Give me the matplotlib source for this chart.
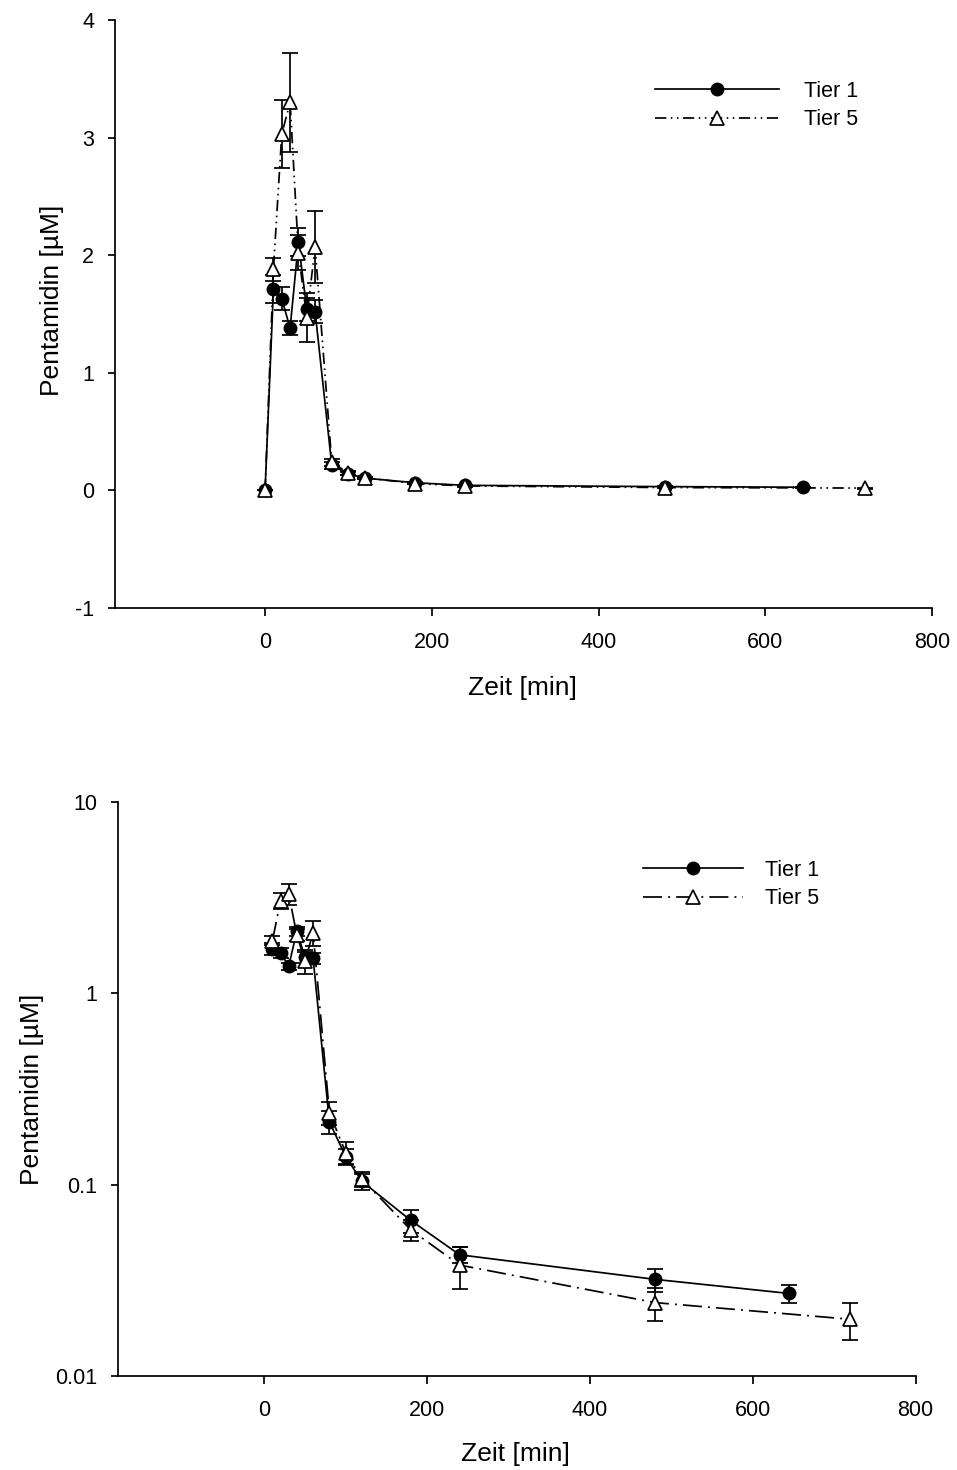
import matplotlib
matplotlib.use("Agg")
import matplotlib.pyplot as plt
from matplotlib.ticker import NullLocator

# Pentamidin concentration vs time, two animals (mean +/- SE)
time_t1 = [0, 10, 20, 30, 40, 50, 60, 80, 100, 120, 180, 240, 480, 645]
conc_t1 = [0, 1.71, 1.63, 1.38, 2.11, 1.54, 1.52, 0.213, 0.140, 0.104,
           0.065, 0.043, 0.032, 0.027]
err_t1 = [0, 0.12, 0.10, 0.06, 0.12, 0.10, 0.10, 0.030, 0.013, 0.010,
          0.009, 0.004, 0.0044, 0.003]

time_t5 = [0, 10, 20, 30, 40, 50, 60, 80, 100, 120, 180, 240, 480, 720]
conc_t5 = [0, 1.88, 3.03, 3.30, 2.02, 1.47, 2.07, 0.238, 0.147, 0.107,
           0.058, 0.038, 0.0242, 0.0198]
err_t5 = [0, 0.10, 0.29, 0.42, 0.15, 0.21, 0.31, 0.033, 0.019, 0.010,
          0.007, 0.0095, 0.0047, 0.0044]

labels = ["Tier 1", "Tier 5"]
xticks = [0, 200, 400, 600, 800]
yticks_lin = [-1, 0, 1, 2, 3, 4]
yticks_log = [0.01, 0.1, 1, 10]
yticklabels_log = ["0.01", "0.1", "1", "10"]

INK = "black"
LW = 1.25
plt.rcParams.update({
    "font.family": ["Liberation Sans", "DejaVu Sans"],
    "font.size": 15,
    "axes.unicode_minus": False,
    "axes.linewidth": LW,
    "xtick.major.width": LW, "ytick.major.width": LW,
    "xtick.major.size": 6, "ytick.major.size": 5,
    "xtick.major.pad": 11, "ytick.major.pad": 10,
    "xtick.labelsize": 15.5, "ytick.labelsize": 15.5,
})


def draw(ax, i1, i5, t5_dash):
    t1x, t1y, t1e = time_t1[i1:], conc_t1[i1:], err_t1[i1:]
    t5x, t5y, t5e = time_t5[i5:], conc_t5[i5:], err_t5[i5:]
    ax.errorbar(t1x, t1y, yerr=t1e, fmt="none", ecolor=INK, elinewidth=LW,
                capsize=6, capthick=LW, zorder=2)
    ax.errorbar(t5x, t5y, yerr=t5e, fmt="none", ecolor=INK, elinewidth=LW,
                capsize=6, capthick=LW, zorder=2)
    h1, = ax.plot(t1x, t1y, color=INK, lw=LW, marker="o", ms=9,
                  mfc=INK, mec=INK, zorder=3, label=labels[0])
    h5, = ax.plot(t5x, t5y, color=INK, lw=LW, ls=t5_dash, marker="^", ms=9.5,
                  mfc="white", mec=INK, mew=LW, zorder=4, label=labels[1])
    for s in ("top", "right"):
        ax.spines[s].set_visible(False)
    ax.set_xlim(-180, 800)
    ax.set_xticks(xticks)
    ax.set_xlabel("Zeit [min]", fontsize=19)
    ax.set_ylabel("Pentamidin [µM]", fontsize=19)
    return h1, h5


fig = plt.figure(figsize=(9.57, 14.70), dpi=100)

# --- linear scale ---------------------------------------------------------
ax1 = fig.add_axes([0.1202, 0.5864, 0.8537, 0.4])
h = draw(ax1, 0, 0, (0, (6.5, 2.6, 0.9, 2.6, 0.9, 2.6)))
ax1.set_ylim(-1, 4)
ax1.set_yticks(yticks_lin)
ax1.xaxis.set_label_coords(0.499, -0.115)
ax1.yaxis.set_label_coords(-0.062, 0.523)
ax1.legend(handles=h, loc="upper left", bbox_to_anchor=(655 / 957, 1 - 81 / 1470),
           bbox_transform=fig.transFigure, frameon=False, numpoints=1,
           handlelength=5.76, handletextpad=1.16, labelspacing=0.33,
           borderpad=0, borderaxespad=0, fontsize=15.5)

# --- log scale ------------------------------------------------------------
ax2 = fig.add_axes([0.1230, 0.0639, 0.8337, 0.3907])
h = draw(ax2, 1, 1, (0, (11, 3.5, 1.1, 3.5)))
ax2.set_yscale("log")
ax2.set_ylim(0.01, 10)
ax2.set_yticks(yticks_log, labels=yticklabels_log)
ax2.yaxis.set_minor_locator(NullLocator())
ax2.xaxis.set_label_coords(0.499, -0.115)
ax2.yaxis.set_label_coords(-0.092, 0.5)
ax2.legend(handles=h, loc="upper left", bbox_to_anchor=(643 / 957, 1 - 860 / 1470),
           bbox_transform=fig.transFigure, frameon=False, numpoints=1,
           handlelength=4.66, handletextpad=1.0, labelspacing=0.33,
           borderpad=0, borderaxespad=0, fontsize=15.5)

fig.savefig("out.png", dpi=100, facecolor="white")
